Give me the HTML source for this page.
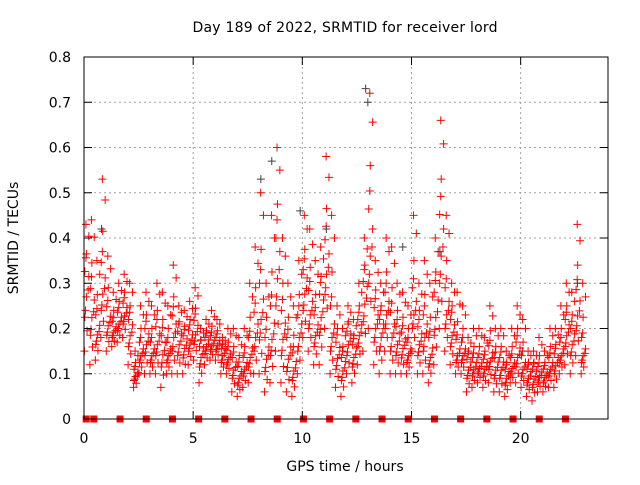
<!DOCTYPE html>
<html><head><meta charset="utf-8"><style>
html,body{margin:0;padding:0;background:#fff;}
svg text{font-family:"DejaVu Sans","Liberation Sans",sans-serif;font-size:14px;fill:#000;}
</style></head><body>
<svg id="chart" width="640" height="480" xmlns="http://www.w3.org/2000/svg">
<text x="345" y="32" text-anchor="middle" textLength="305">Day 189 of 2022, SRMTID for receiver lord</text>
<text x="345" y="471" text-anchor="middle">GPS time / hours</text>
<text transform="translate(18,238) rotate(-90)" text-anchor="middle">SRMTID / TECUs</text>
<g id="grid"></g><g id="marks"></g><g id="axes"></g>
</svg>
<script>
const xTicks=[0,5,10,15,20];
const yTicks=[0,0.1,0.2,0.3,0.4,0.5,0.6,0.7,0.8];
const yTickLabels=["0","0.1","0.2","0.3","0.4","0.5","0.6","0.7","0.8"];
const binStart=0, binStep=0.25;
const hiVals=[0.43,0.44,0.35,0.53,0.36,0.28,0.3,0.32,0.3,0.15,0.25,0.28,0.25,0.3,0.28,0.25,0.34,0.25,0.24,0.26,0.29,0.2,0.22,0.24,0.22,0.18,0.2,0.2,0.18,0.2,0.3,0.38,0.5,0.3,0.45,0.6,0.4,0.3,0.25,0.35,0.45,0.42,0.35,0.38,0.58,0.45,0.25,0.2,0.25,0.22,0.3,0.4,0.72,0.35,0.3,0.4,0.38,0.3,0.28,0.25,0.45,0.3,0.35,0.3,0.4,0.66,0.45,0.3,0.28,0.25,0.18,0.2,0.2,0.18,0.25,0.2,0.2,0.15,0.2,0.25,0.22,0.15,0.15,0.18,0.15,0.2,0.2,0.25,0.3,0.28,0.43,0.3];
const midVals=[0.3,0.25,0.2,0.3,0.22,0.2,0.22,0.24,0.2,0.1,0.15,0.18,0.15,0.18,0.16,0.15,0.2,0.18,0.17,0.18,0.2,0.15,0.17,0.17,0.17,0.15,0.14,0.12,0.1,0.12,0.15,0.2,0.25,0.15,0.2,0.35,0.2,0.15,0.12,0.2,0.3,0.25,0.2,0.25,0.35,0.2,0.15,0.12,0.18,0.15,0.2,0.28,0.4,0.22,0.2,0.25,0.2,0.18,0.17,0.15,0.25,0.18,0.2,0.15,0.25,0.4,0.25,0.2,0.15,0.15,0.12,0.12,0.12,0.12,0.14,0.12,0.12,0.1,0.12,0.15,0.12,0.1,0.1,0.1,0.1,0.12,0.13,0.15,0.2,0.18,0.25,0.15];
const loVals=[0.15,0.12,0.13,0.18,0.15,0.16,0.17,0.18,0.12,0.07,0.1,0.1,0.1,0.1,0.07,0.1,0.1,0.1,0.1,0.12,0.13,0.08,0.12,0.13,0.13,0.1,0.1,0.06,0.05,0.07,0.08,0.1,0.1,0.06,0.08,0.15,0.08,0.06,0.05,0.1,0.18,0.15,0.12,0.12,0.2,0.1,0.07,0.05,0.1,0.08,0.12,0.15,0.2,0.12,0.1,0.15,0.1,0.1,0.1,0.1,0.15,0.1,0.1,0.08,0.12,0.2,0.15,0.12,0.1,0.1,0.06,0.07,0.08,0.07,0.08,0.06,0.06,0.05,0.08,0.08,0.07,0.05,0.04,0.06,0.06,0.07,0.07,0.1,0.12,0.1,0.14,0.1];
const grayTimes=[0.8,8.1,8.6,9.9,11.1,12.9,13.0,14.6,16.3,22.6];
const grayVals=[0.42,0.53,0.57,0.46,0.42,0.73,0.7,0.38,0.37,0.3];
const zeroTimes=[0.1,0.45,1.65,2.85,4.05,5.25,6.45,7.65,8.85,10.05,11.25,12.45,13.65,14.85,16.05,17.25,18.45,19.65,20.85,22.05];
const X0=84,X1=608,Y0=419,Y1=57;
const xs=t=>X0+t*(X1-X0)/24;
const ys=v=>Y0-v*(Y0-Y1)/0.8;
const NS="http://www.w3.org/2000/svg";
function mk(tag,attrs,parent){const e=document.createElementNS(NS,tag);for(const k in attrs)e.setAttribute(k,attrs[k]);parent.appendChild(e);return e;}
const grid=document.getElementById('grid'),axes=document.getElementById('axes'),marks=document.getElementById('marks');
mk('rect',{x:X0,y:Y1,width:X1-X0,height:Y0-Y1,fill:'none',stroke:'#000','stroke-width':1},axes);
yTicks.forEach((v,i)=>{
  if(i>0&&i<yTicks.length-1){const g=mk('line',{x1:X0,x2:X1,y1:ys(v),y2:ys(v),stroke:'#a0a0a0','stroke-dasharray':'2,3'},grid);
  }
  mk('line',{x1:X0,x2:X0+8,y1:ys(v),y2:ys(v),stroke:'#000'},axes);
  mk('line',{x1:X1,x2:X1-8,y1:ys(v),y2:ys(v),stroke:'#000'},axes);
  const t=mk('text',{x:X0-13,y:ys(v)+5,'text-anchor':'end'},axes);t.textContent=yTickLabels[i];
  
});
xTicks.forEach(v=>{
  if(v>0){const g=mk('line',{x1:xs(v),x2:xs(v),y1:Y0,y2:Y1,stroke:'#a0a0a0','stroke-dasharray':'2,3'},grid);
  }
  mk('line',{x1:xs(v),x2:xs(v),y1:Y0,y2:Y0-8,stroke:'#000'},axes);
  mk('line',{x1:xs(v),x2:xs(v),y1:Y1,y2:Y1+8,stroke:'#000'},axes);
  const t=mk('text',{x:xs(v),y:Y0+24,'text-anchor':'middle'},axes);t.textContent=String(v);
  
});
function plus(t,v,col){
  const x=xs(t),y=ys(v);
  const p=mk('path',{d:`M${x-4},${y}H${x+4}M${x},${y-4}V${y+4}`,stroke:col,'stroke-width':1,fill:'none'},marks);
  
  
}
const fracs=[0,0.15,0.3,0.45,0.6,0.75,0.9,1];
const offs=[0.02,0.14,0.07,0.19,0.04,0.11,0.22,0.09];
hiVals.forEach((hi,i)=>{
  const t=binStart+i*binStep, mid=midVals[i], lo=loVals[i];
  fracs.forEach((f,k)=>{
    const v = f<=0.5 ? lo+(mid-lo)*(f/0.5) : mid+(hi-mid)*((f-0.5)/0.5);
    plus(t+offs[k],v,'#ff0000');
    if(f>0.1&&f<0.7) plus(t+offs[(k+3)%8],v+(mid-lo)*0.2,'#ff0000');
  });
});
grayVals.forEach((v,i)=>plus(grayTimes[i],v,'#404040'));
zeroTimes.forEach(t=>{
  const r=mk('rect',{x:xs(t)-3.5,y:Y0-3.5,width:7,height:7,fill:'#ff0000'},marks);
  
  
});
</script>
</body></html>
